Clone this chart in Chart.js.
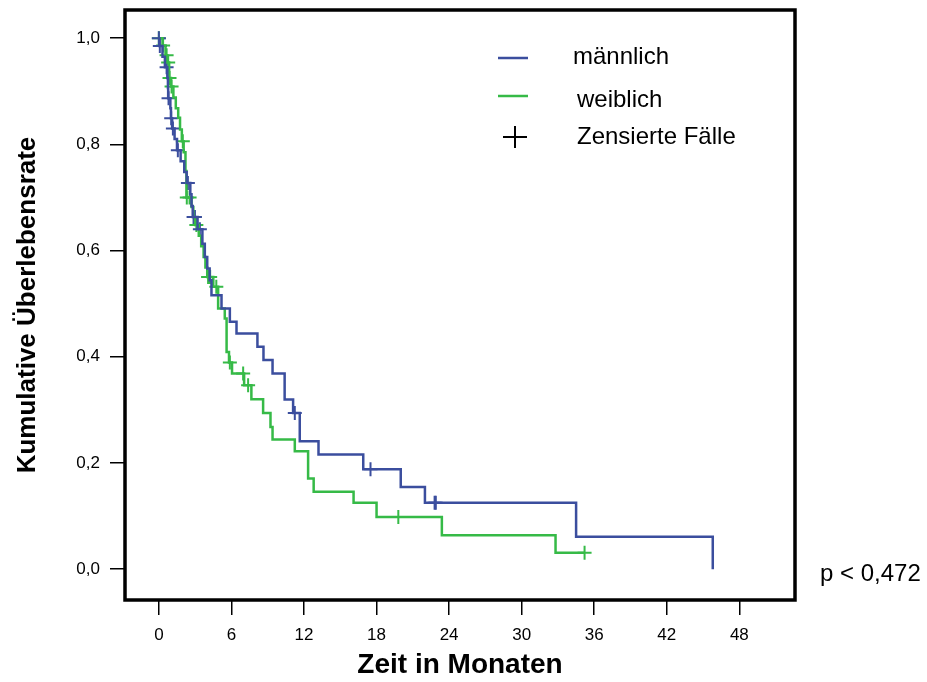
<!DOCTYPE html>
<html>
<head>
<meta charset="utf-8">
<script src="https://cdn.jsdelivr.net/npm/chart.js@4.4.1/dist/chart.umd.min.js"></script>
<style>
  html, body { margin: 0; padding: 0; background: #fff; }
  #wrap { width: 927px; height: 682px; position: relative; }
</style>
</head>
<body>
<div id="wrap"><canvas id="km"></canvas></div>
<script>
/************ DATA ************/
const xTicks = [0, 6, 12, 18, 24, 30, 36, 42, 48];
const yTicks = [0, 0.2, 0.4, 0.6, 0.8, 1.0];

// männlich: Zeitpunkte (Monate) und Überlebensrate nach dem Schritt
const maleTimes = [0, 0.05, 0.3, 0.5, 0.7, 0.75, 0.77, 0.95, 1.0, 1.1, 1.3, 1.5, 1.8, 2.1, 2.3, 2.6, 2.7, 2.8, 3.2, 3.6, 3.8, 4.0, 4.2, 4.35, 5.18, 5.87, 6.42, 8.15, 8.65, 9.4, 10.4, 11.1, 11.65, 13.2, 16.9, 20.0, 22.0, 34.5, 45.8];
const maleSurv  = [1.0, 0.985, 0.965, 0.945, 0.925, 0.906, 0.887, 0.868, 0.849, 0.83, 0.81, 0.789, 0.768, 0.748, 0.727, 0.706, 0.684, 0.663, 0.64, 0.613, 0.588, 0.566, 0.544, 0.516, 0.491, 0.466, 0.444, 0.419, 0.394, 0.3685, 0.3196, 0.294, 0.241, 0.216, 0.188, 0.155, 0.125, 0.061, 0.0];
const maleCensor = [0, 0.08, 0.64, 0.8, 1.02, 1.16, 1.57, 2.4, 2.87, 2.98, 3.39, 11.24, 17.5, 22.8, 22.9];

// weiblich
const femaleTimes = [0, 0.3, 0.55, 0.7, 0.85, 1.0, 1.2, 1.4, 1.6, 1.75, 1.9, 2.05, 2.2, 2.28, 2.7, 2.85, 3.0, 3.3, 3.5, 3.7, 3.85, 4.0, 4.5, 4.9, 5.45, 5.6, 5.8, 6.05, 7.05, 7.65, 8.62, 9.23, 9.4, 11.24, 12.34, 12.8, 16.1, 18.0, 23.4, 32.8, 35.2];
const femaleSurv  = [1.0, 0.986, 0.968, 0.954, 0.925, 0.909, 0.888, 0.868, 0.85, 0.828, 0.806, 0.785, 0.75, 0.70, 0.682, 0.663, 0.648, 0.628, 0.608, 0.588, 0.568, 0.55, 0.532, 0.491, 0.472, 0.409, 0.389, 0.3685, 0.3465, 0.32, 0.294, 0.268, 0.244, 0.222, 0.171, 0.146, 0.125, 0.0985, 0.064, 0.031, 0.031];
const femaleCensor = [0, 0.35, 0.64, 0.77, 0.88, 1.05, 1.98, 2.31, 2.54, 2.95, 3.1, 4.07, 4.21, 4.24, 4.75, 5.87, 6.97, 7.38, 19.8, 35.2];

const seriesNames = ["männlich", "weiblich"];
const censorName = "Zensierte Fälle";
const pValueText = "p < 0,472";

/************ STYLE ************/
const BLUE = "#3b4e9e";
const GREEN = "#36ba47";
const FONT = "'Liberation Sans', Arial, sans-serif";

/************ HELPERS ************/
function toPoints(times, surv) {
  return times.map((t, i) => ({ x: t, y: surv[i] }));
}

// censored cases sit on the curve: take the survival value in force at that time
function censorPoints(censor, times, surv) {
  return censor.map(t => {
    let s = surv[0];
    for (let i = 0; i < times.length; i++) {
      if (times[i] <= t) s = surv[i];
    }
    return { x: t, y: s };
  });
}

/************ PLUGINS ************/
const framePlugin = {
  id: "frame",
  afterDraw(chart) {
    const { ctx, chartArea: a } = chart;
    ctx.save();
    ctx.strokeStyle = "#000";
    ctx.lineWidth = 3.5;
    ctx.strokeRect(a.left, a.top, a.right - a.left, a.bottom - a.top);
    ctx.restore();
  }
};

const legendPlugin = {
  id: "kmLegend",
  afterDraw(chart) {
    const ctx = chart.ctx;
    ctx.save();
    ctx.font = "24px " + FONT;
    ctx.fillStyle = "#000";
    ctx.textBaseline = "middle";
    ctx.textAlign = "left";

    ctx.lineWidth = 2.5;
    ctx.strokeStyle = BLUE;
    ctx.beginPath(); ctx.moveTo(498, 58); ctx.lineTo(528, 58); ctx.stroke();
    ctx.fillText(seriesNames[0], 573, 57);

    ctx.strokeStyle = GREEN;
    ctx.beginPath(); ctx.moveTo(498, 96); ctx.lineTo(528, 96); ctx.stroke();
    ctx.fillText(seriesNames[1], 577, 100);

    ctx.strokeStyle = "#000";
    ctx.lineWidth = 2;
    ctx.beginPath();
    ctx.moveTo(503, 137); ctx.lineTo(527, 137);
    ctx.moveTo(515, 126); ctx.lineTo(515, 148);
    ctx.stroke();
    ctx.fillText(censorName, 577, 137);

    ctx.fillText(pValueText, 820, 574);
    ctx.restore();
  }
};

/************ CHART ************/
const ctx = document.getElementById("km").getContext("2d");

new Chart(ctx, {
  type: "line",
  data: {
    datasets: [
      {
        label: seriesNames[0],
        data: toPoints(maleTimes, maleSurv),
        borderColor: BLUE,
        borderWidth: 2.5,
        stepped: "before",
        pointRadius: 0,
        fill: false
      },
      {
        label: seriesNames[1],
        data: toPoints(femaleTimes, femaleSurv),
        borderColor: GREEN,
        borderWidth: 2.5,
        stepped: "before",
        pointRadius: 0,
        fill: false
      },
      {
        label: censorName + " m",
        data: censorPoints(maleCensor, maleTimes, maleSurv),
        showLine: false,
        pointStyle: "cross",
        pointRadius: 7,
        pointBorderWidth: 2,
        borderColor: BLUE
      },
      {
        label: censorName + " w",
        data: censorPoints(femaleCensor, femaleTimes, femaleSurv),
        showLine: false,
        pointStyle: "cross",
        pointRadius: 7,
        pointBorderWidth: 2,
        borderColor: GREEN
      }
    ]
  },
  options: {
    responsive: true,
    maintainAspectRatio: false,
    animation: false,
    layout: { padding: { left: 0, top: 10, right: 132, bottom: 0 } },
    plugins: { legend: { display: false }, tooltip: { enabled: false } },
    scales: {
      x: {
        type: "linear",
        min: -2.8,
        max: 52.6,
        afterBuildTicks: s => { s.ticks = xTicks.map(v => ({ value: v })); },
        afterFit: s => { s.height = 82; s.paddingLeft = 0; s.paddingRight = 0; },
        border: { display: false },
        grid: { drawOnChartArea: false, drawTicks: true, tickLength: 15, color: "#000", lineWidth: 1.5 },
        ticks: { color: "#000", font: { family: FONT, size: 17 }, padding: 10, maxRotation: 0 },
        title: { display: true, text: "Zeit in Monaten", color: "#000", font: { family: FONT, size: 28, weight: "bold" }, padding: { top: 0, bottom: 0 } }
      },
      y: {
        min: -0.058,
        max: 1.053,
        afterBuildTicks: s => { s.ticks = yTicks.map(v => ({ value: v })); },
        afterFit: s => { s.width = 125; s.paddingTop = 0; s.paddingBottom = 0; },
        border: { display: false },
        grid: { drawOnChartArea: false, drawTicks: true, tickLength: 15, color: "#000", lineWidth: 1.5 },
        ticks: { color: "#000", font: { family: FONT, size: 17 }, padding: 10, callback: v => v.toFixed(1).replace(".", ",") },
        title: { display: true, text: "Kumulative Überlebensrate", color: "#000", font: { family: FONT, size: 26, weight: "bold" }, padding: { top: 12, bottom: 0 } }
      }
    }
  },
  plugins: [framePlugin, legendPlugin]
});
</script>
</body>
</html>
